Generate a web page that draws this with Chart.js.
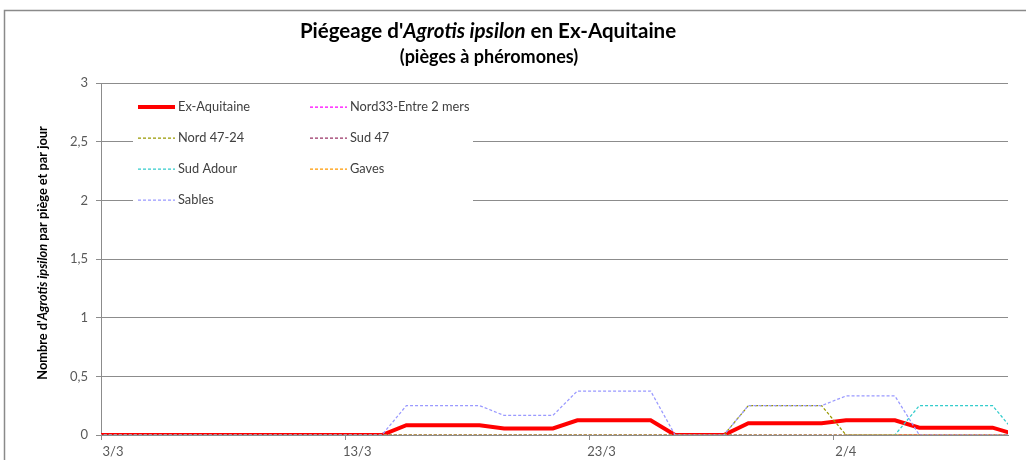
<!DOCTYPE html>
<html><head><meta charset="utf-8">
<script src="https://cdn.jsdelivr.net/npm/chart.js@4.4.1/dist/chart.umd.min.js"></script>
<style>html,body{margin:0;padding:0;background:#fff;}canvas{display:block;}</style>
</head><body>
<canvas id="c" width="1026" height="460"></canvas>
<script>
// ---- data ----
const dates = ['2/3','3/3','4/3','5/3','6/3','7/3','8/3','9/3','10/3','11/3','12/3','13/3','14/3','15/3','16/3','17/3','18/3','19/3','20/3','21/3','22/3','23/3','24/3','25/3','26/3','27/3','28/3','29/3','30/3','31/3','1/4','2/4','3/4','4/4','5/4','6/4','7/4','8/4','9/4'];
const seriesNames = ['Ex-Aquitaine','Nord33-Entre 2 mers','Nord 47-24','Sud 47','Sud Adour','Gaves','Sables'];
const exAquitaine = [0,0,0,0,0,0,0,0,0,0,0,0,0,0.083,0.083,0.083,0.083,0.056,0.056,0.056,0.125,0.125,0.125,0.125,0,0,0,0.1,0.1,0.1,0.1,0.125,0.125,0.125,0.0625,0.0625,0.0625,0.0625,0];
const nord33 = [0,0,0,0,0,0,0,0,0,0,0,0,0,0,0,0,0,0,0,0,0,0,0,0,0,0,0,0,0,0,0,0,0,0,0,0,0,0,0];
const nord4724 = [0,0,0,0,0,0,0,0,0,0,0,0,0,0,0,0,0,0,0,0,0,0,0,0,0,0,0,0.25,0.25,0.25,0.25,0,0,0,0,0,0,0,0];
const sud47 = [0,0,0,0,0,0,0,0,0,0,0,0,0,0,0,0,0,0,0,0,0,0,0,0,0,0,0,0,0,0,0,0,0,0,0,0,0,0,0];
const sudAdour = [0,0,0,0,0,0,0,0,0,0,0,0,0,0,0,0,0,0,0,0,0,0,0,0,0,0,0,0,0,0,0,0,0,0,0.25,0.25,0.25,0.25,0];
const gaves = [0,0,0,0,0,0,0,0,0,0,0,0,0,0,0,0,0,0,0,0,0,0,0,0,0,0,0,0,0,0,0,0,0,0,0,0,0,0,0];
const sables = [0,0,0,0,0,0,0,0,0,0,0,0,0,0.25,0.25,0.25,0.25,0.167,0.167,0.167,0.375,0.375,0.375,0.375,0,0,0,0.25,0.25,0.25,0.25,0.333,0.333,0.333,0,0,0,0,0];
const xTickLabels = ['3/3','13/3','23/3','2/4'];
const yTickLabels = ['0','0,5','1','1,5','2','2,5','3'];
const titleLine1 = [["Piégeage d'", false], ['Agrotis ipsilon', true], [' en Ex-Aquitaine', false]];
const titleLine2 = '(pièges à phéromones)';
const yTitle = [["Nombre d'", false], ['Agrotis ipsilon', true], [' par piège et par jour', false]];

// ---- styles ----
const FONT = 'Lato, "Open Sans", sans-serif';
const GRID = '#8c8c8c';
const styles = [
  {color:'#ff0000', width:4, dash:[]},
  {color:'#ff00ff', width:1.25, dash:[3,2]},
  {color:'#999900', width:1.25, dash:[3,2]},
  {color:'#993366', width:1.25, dash:[3,2]},
  {color:'#33cccc', width:1.25, dash:[3,2]},
  {color:'#ff9900', width:1.25, dash:[3,2]},
  {color:'#9999ff', width:1.25, dash:[3,2]}
];
const seriesValues = [exAquitaine, nord33, nord4724, sud47, sudAdour, gaves, sables];

const datasets = seriesValues.map((vals, s) => ({
  label: seriesNames[s],
  data: dates.map((d, i) => ({x: i - 0.5, y: vals[i]})),
  borderColor: styles[s].color,
  backgroundColor: styles[s].color,
  borderWidth: styles[s].width,
  borderDash: styles[s].dash,
  pointRadius: 0,
  tension: 0,
  fill: false,
  order: seriesValues.length - s
}));

function drawMixed(ctx, parts, cx, y, size) {
  const fonts = parts.map(([t, it]) => (it ? 'italic ' : '') + 'bold ' + size + 'px ' + FONT);
  let total = 0;
  parts.forEach(([t], k) => { ctx.font = fonts[k]; total += ctx.measureText(t).width; });
  let x = cx - total / 2;
  ctx.textAlign = 'left';
  parts.forEach(([t], k) => { ctx.font = fonts[k]; ctx.fillText(t, x, y); x += ctx.measureText(t).width; });
}

const decor = {
  id: 'decor',
  beforeDraw(chart) {
    const ctx = chart.ctx;
    ctx.save();
    ctx.fillStyle = '#fff';
    ctx.fillRect(0, 0, chart.width, chart.height);
    ctx.strokeStyle = '#8a8a8a';
    ctx.lineWidth = 1.5;
    ctx.strokeRect(4.5, 10.5, 1100, 600);
    ctx.restore();
  },
  afterDatasetsDraw(chart) {
    const ctx = chart.ctx;
    ctx.save();
    // title
    ctx.fillStyle = '#000';
    ctx.textBaseline = 'alphabetic';
    drawMixed(ctx, titleLine1, 488, 38, 20.5);
    drawMixed(ctx, [[titleLine2, false]], 489, 63, 18);
    // y title
    ctx.save();
    ctx.translate(43, 253);
    ctx.rotate(-Math.PI / 2);
    ctx.textBaseline = 'middle';
    drawMixed(ctx, yTitle, 0, 0, 12.8);
    ctx.restore();
    // legend
    ctx.fillStyle = '#fff';
    ctx.fillRect(133, 89, 340, 124);
    ctx.textBaseline = 'middle';
    ctx.textAlign = 'left';
    ctx.font = '12.8px ' + FONT;
    seriesNames.forEach((name, s) => {
      const col = s % 2, row = Math.floor(s / 2);
      const x0 = col ? 310 : 138;
      const y = 107 + row * 31;
      ctx.beginPath();
      ctx.strokeStyle = styles[s].color;
      ctx.lineWidth = styles[s].width;
      ctx.setLineDash(styles[s].dash);
      ctx.moveTo(x0, y);
      ctx.lineTo(x0 + 37, y);
      ctx.stroke();
      ctx.setLineDash([]);
      ctx.fillStyle = '#404040';
      ctx.fillText(name, x0 + 40, y);
    });
    ctx.restore();
  }
};

const xTickValues = xTickLabels.map(l => dates.indexOf(l) - 1);

new Chart(document.getElementById('c'), {
  type: 'line',
  data: { datasets },
  plugins: [decor],
  options: {
    responsive: false,
    animation: false,
    devicePixelRatio: 1,
    layout: { padding: { top: 83, right: 18, left: 0, bottom: 0 } },
    plugins: { legend: { display: false }, title: { display: false }, tooltip: { enabled: false } },
    scales: {
      x: {
        type: 'linear',
        min: 0,
        max: 37.13,
        afterFit: s => { s.height = 25; },
        afterBuildTicks: s => { s.ticks = xTickValues.map(v => ({ value: v })); },
        ticks: {
          autoSkip: false, maxRotation: 0, padding: 4, labelOffset: 12,
          color: '#595959', font: { family: FONT, size: 13 },
          callback: (v, i) => xTickLabels[i]
        },
        grid: { drawOnChartArea: false, drawTicks: true, tickLength: 5, color: GRID },
        border: { display: true, color: GRID, width: 1 }
      },
      y: {
        min: 0, max: 3,
        afterFit: s => { s.width = 101; },
        ticks: {
          stepSize: 0.5, padding: 8, color: '#595959', font: { family: FONT, size: 13 },
          callback: (v, i) => yTickLabels[i]
        },
        grid: { color: GRID, lineWidth: 1, tickLength: 5, drawTicks: true },
        border: { display: true, color: GRID, width: 1 }
      }
    }
  }
});
</script>
</body></html>
